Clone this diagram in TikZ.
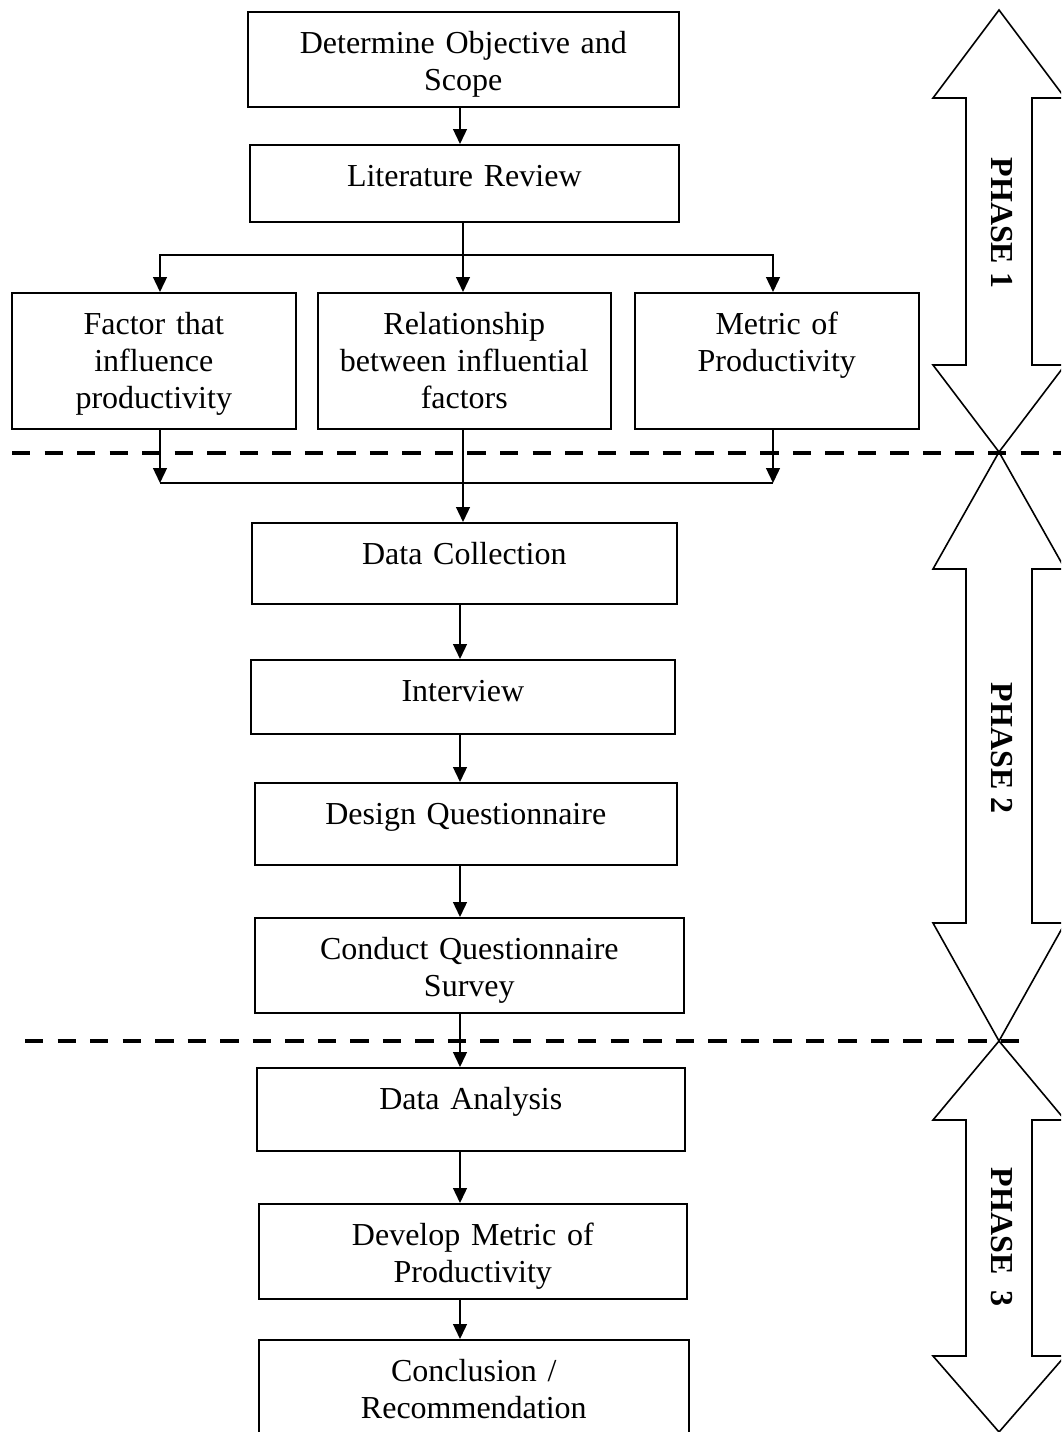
\documentclass[tikz,border=0pt]{standalone}
\usepackage{fontspec}
\setmainfont{Liberation Serif}
\usetikzlibrary{arrows.meta}

\tikzset{
  box/.style={draw, line width=0.6pt, inner sep=0pt, align=center, anchor=north west,
    text height=15.75pt, font=\fontsize{12pt}{13.9pt}\selectfont},
  arr/.style={line width=0.6pt, -{Triangle[length=5.6pt,width=5.2pt]}},
  link/.style={line width=0.6pt},
  sep/.style={line width=1.6pt, dash pattern=on 6.9pt off 5.3pt},
  phase/.style={line width=0.6pt, line join=miter},
  plabel/.style={rotate=-90, font=\fontsize{12pt}{14pt}\selectfont\bfseries},
}

\begin{document}
\begin{tikzpicture}[x=0.375pt,y=-0.375pt]
\clip (0,0) rectangle (1061,1432);

% phase 1
\node[box, text width=161.625pt, text depth=19.875pt] (obj) at (247,11) {Determine Objective and\\Scope};
\node[box, text width=160.875pt, text depth=13.125pt] (lit) at (249,144) {Literature Review};
\node[box, text width=106.5pt, text depth=35.25pt] (fac) at (11,292) {Factor that\\influence\\productivity};
\node[box, text width=109.875pt, text depth=35.25pt] (rel) at (317,292) {Relationship\\between influential\\factors};
\node[box, text width=106.5pt, text depth=35.25pt] (met) at (634,292) {Metric of\\Productivity};

% phase 2
\node[box, text width=159.375pt, text depth=14.625pt] (dc) at (251,522) {Data Collection};
\node[box, text width=159pt, text depth=12pt] (int) at (250,659) {Interview};
\node[box, text width=158.25pt, text depth=15pt] (dq) at (254,782) {Design Questionnaire};
\node[box, text width=160.875pt, text depth=19.875pt] (cq) at (254,917) {Conduct Questionnaire\\Survey};

% phase 3
\node[box, text width=160.5pt, text depth=15.375pt] (da) at (256,1067) {Data Analysis};
\node[box, text width=160.5pt, text depth=19.875pt] (dm) at (258,1203) {Develop Metric of\\Productivity};
\node[box, text width=161.25pt, text depth=22.125pt] (cr) at (258,1339) {Conclusion /\\Recommendation};

% connectors
\coordinate (spine) at (460,0);
\coordinate (split) at (463,255);
\coordinate (merge) at (463,483);
\coordinate (lft) at (160,0);
\coordinate (rgt) at (773,0);

\draw[arr] (obj.south -| spine) -- (lit.north -| spine);
\draw[link] (lit.south -| split) -- (split);
\draw[arr] (split) -| (fac.north -| lft);
\draw[arr] (split) -- (rel.north -| split);
\draw[arr] (split) -| (met.north -| rgt);

\draw[arr] (fac.south -| lft) -- (merge -| lft);
\draw[arr] (met.south -| rgt) -- (merge -| rgt);
\draw[link] (merge -| lft) -- (merge -| rgt);
\draw[arr] (rel.south -| split) -- (dc.north -| split);

\draw[arr] (dc.south -| spine) -- (int.north -| spine);
\draw[arr] (int.south -| spine) -- (dq.north -| spine);
\draw[arr] (dq.south -| spine) -- (cq.north -| spine);
\draw[arr] (cq.south -| spine) -- (da.north -| spine);
\draw[arr] (da.south -| spine) -- (dm.north -| spine);
\draw[arr] (dm.south -| spine) -- (cr.north -| spine);

% phase borders
\draw[sep] (12,453) -- (1061,453);
\draw[sep] (25,1041) -- (1023,1041);

% phase arrows
\foreach \t/\a/\b/\e/\ly/\k/\txt in {10/98/365/452/223/1/{PHASE 1},
    452/569/923/1041/748/2/{PHASE 2}, 1041/1120/1356/1432/1237/3/{PHASE~ 3}} {
  \draw[phase] (999,\t) -- (1065,\a) -- (1032,\a) -- (1032,\b) -- (1065,\b) -- (999,\e)
    -- (933,\b) -- (966,\b) -- (966,\a) -- (933,\a) -- cycle;
  \node[plabel] (ph\k) at (1002,\ly) {\txt};
}
\end{tikzpicture}
\end{document}
